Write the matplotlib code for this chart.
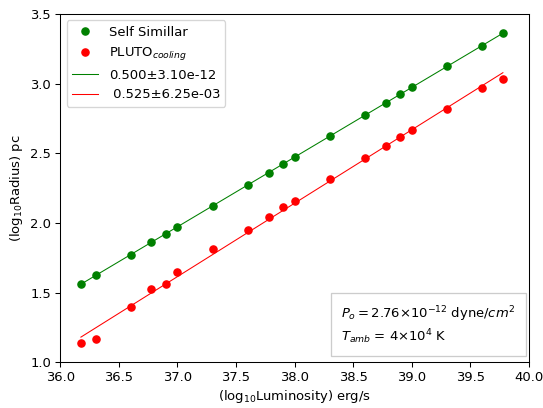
import numpy as np
import matplotlib
matplotlib.use('Agg')
import matplotlib.pyplot as plt

# luminosity values (erg/s) and radii
lum = np.array([1.5e36, 2e36, 4e36, 6e36, 8e36, 1e37, 2e37, 4e37, 6e37, 8e37,
                1e38, 2e38, 4e38, 6e38, 8e38, 1e39, 2e39, 4e39, 6e39])
log_lum = np.log10(lum)
r_self = [1.560, 1.623, 1.773, 1.861, 1.924, 1.972, 2.123, 2.273, 2.361, 2.424,
          2.472, 2.623, 2.773, 2.861, 2.924, 2.972, 3.123, 3.273, 3.361]
r_pluto = [1.141, 1.169, 1.397, 1.528, 1.560, 1.648, 1.811, 1.950, 2.043, 2.113,
           2.158, 2.314, 2.467, 2.555, 2.617, 2.665, 2.816, 2.967, 3.035]
fit_labels = ["0.500\u00b13.10e-12", " 0.525\u00b16.25e-03"]

dpi = 94.5
fig = plt.figure(figsize=(543 / dpi, 408 / dpi), dpi=dpi)
ax = fig.add_axes([0.111, 0.112, 0.863, 0.854])

ax.plot(log_lum, r_self, 'o', color='green', ms=5.5, label='Self Simillar')
ax.plot(log_lum, r_pluto, 'o', color='red', ms=5.5, label='PLUTO$_{cooling}$')

p1 = np.polyfit(log_lum, r_self, 1)
p2 = np.polyfit(log_lum, r_pluto, 1)
ax.plot(log_lum, np.polyval(p1, log_lum), '-', color='green', lw=0.8, label=fit_labels[0])
ax.plot(log_lum, np.polyval(p2, log_lum), '-', color='red', lw=0.8, label=fit_labels[1])

ax.set_xlim(36.0, 40.0)
ax.set_ylim(1.0, 3.5)
ax.set_xlabel("(log$_{10}$Luminosity) erg/s", labelpad=3)
ax.set_ylabel("(log$_{10}$Radius) pc")
ax.legend(loc='upper left')

ax.text(38.40, 1.267,
        "$P_o = 2.76{\\times}10^{-12}$ dyne/$cm^2$\n$T_{amb}$ = 4\u00d710$^4$ K",
        ha='left', va='center', fontsize=10,
        bbox=dict(boxstyle='square,pad=0.8', facecolor='white', edgecolor='0.8'))

plt.savefig("out.png", dpi=dpi)
